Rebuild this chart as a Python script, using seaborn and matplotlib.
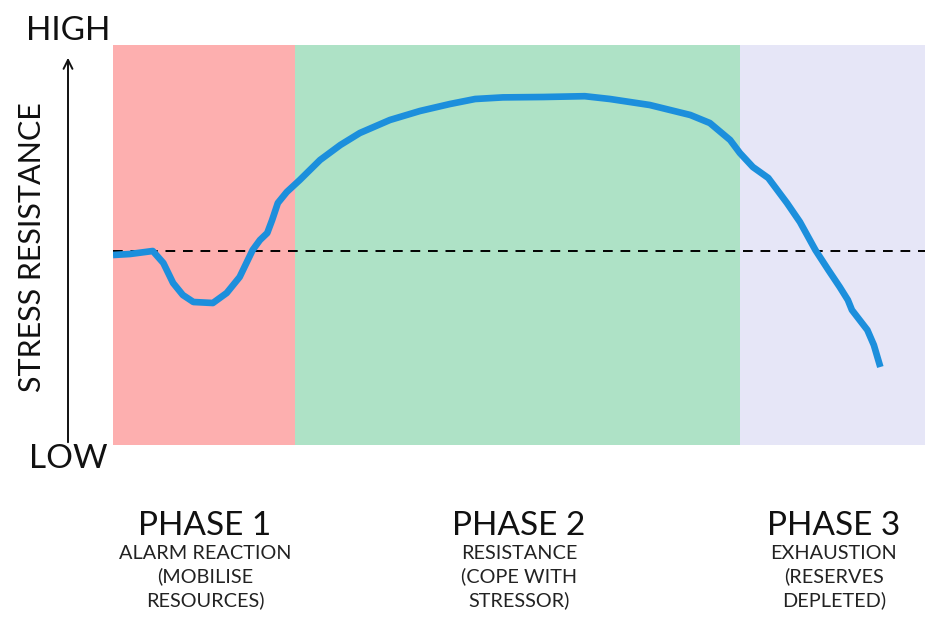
import matplotlib
matplotlib.use("Agg")
import matplotlib.pyplot as plt
import seaborn as sns
import pandas as pd

# Data (x: time 0-100, y: stress resistance 0-100)
time = [0, 2.1, 4.9, 6.2, 7.4, 8.6, 9.9, 12.3, 14.0, 15.6, 17.2, 18.1, 19.0, 19.6,
        20.3, 21.4, 23.0, 25.5, 28.0, 30.4, 34.1, 37.8, 41.5, 44.6, 48.0, 53.0,
        58.1, 61.2, 66.1, 71.1, 73.5, 76.0, 77.2, 78.8, 80.7, 83.0, 84.6, 86.5,
        88.1, 89.5, 90.5, 91.0, 92.9, 93.7, 94.5]
resistance = [47.5, 47.75, 48.5, 45.5, 40.5, 37.5, 35.75, 35.5, 38.0, 42.0, 48.75,
              51.25, 53.0, 56.25, 60.5, 63.25, 66.25, 71.25, 75.0, 78.0, 81.25,
              83.5, 85.25, 86.5, 86.9, 87.0, 87.2, 86.5, 85.0, 82.5, 80.5, 76.25,
              73.0, 69.5, 66.75, 60.5, 55.75, 48.75, 43.75, 39.5, 36.25, 33.75,
              28.75, 25.0, 19.5]
baseline = 48.5
phase_bounds = [0, 22.4, 77.2, 100]
phase_colors = ["#FDAFAF", "#AEE2C6", "#E6E6F7"]
phase_titles = ["PHASE 1", "PHASE 2", "PHASE 3"]
phase_desc = ["ALARM REACTION\n(MOBILISE\nRESOURCES)",
              "RESISTANCE\n(COPE WITH\nSTRESSOR)",
              "EXHAUSTION\n(RESERVES\nDEPLETED)"]

sns.set_theme(style="white")
plt.rcParams['font.family'] = ['Lato', 'DejaVu Sans']

fig = plt.figure(figsize=(9.5, 6.29), dpi=100)
W, H = 950, 629
ax = fig.add_axes([113 / W, (H - 445) / H, 812 / W, 400 / H])

for i in range(3):
    ax.axvspan(phase_bounds[i], phase_bounds[i + 1], color=phase_colors[i], lw=0, zorder=0)

ax.axhline(baseline, color="black", ls=(0, (5, 4)), lw=1.4, zorder=1)

df = pd.DataFrame({"time": time, "resistance": resistance})
sns.lineplot(data=df, x="time", y="resistance", ax=ax, color="#1C8FDC", lw=4.8,
             sort=False, zorder=2, solid_capstyle="butt", solid_joinstyle="round")

ax.set_xlim(0, 100)
ax.set_ylim(0, 100)
ax.set_xticks([])
ax.set_yticks([])
ax.set_xlabel("")
ax.set_ylabel("")
for s in ax.spines.values():
    s.set_visible(False)

# Axis annotations
fig.text(68 / W, 1 - 31 / H, "HIGH", ha="center", va="center", fontsize=24, color="#111111")
fig.text(68 / W, 1 - 459 / H, "LOW", ha="center", va="center", fontsize=24, color="#111111")
fig.text(32 / W, 1 - 247 / H, "STRESS RESISTANCE", ha="center", va="center",
         rotation=90, fontsize=22, color="#111111")
fig.patches.append(matplotlib.patches.FancyArrowPatch(
    (68 / W, 1 - 445 / H), (68 / W, 1 - 55 / H), transform=fig.transFigure,
    arrowstyle="->", mutation_scale=16, lw=1.4, color="#111111"))

centers_px = [205, 519, 834]
for cx, t, d in zip(centers_px, phase_titles, phase_desc):
    fig.text(cx / W, 1 - 526 / H, t, ha="center", va="center", fontsize=24, color="#111111")
    fig.text(cx / W, 1 - 545 / H, d, ha="center", va="top", fontsize=14.3,
             color="#222222", linespacing=1.38)

fig.savefig("out.png", dpi=100, facecolor="white")
